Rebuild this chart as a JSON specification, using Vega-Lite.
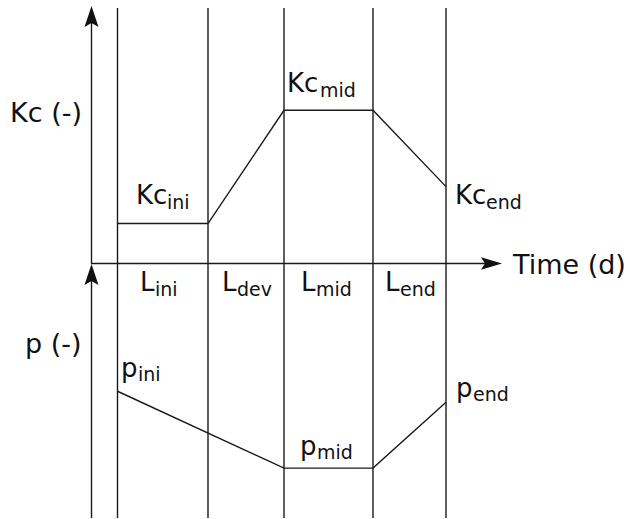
{
  "$schema": "https://vega.github.io/schema/vega-lite/v6.json",
  "width": 630,
  "height": 519,
  "padding": 0,
  "autosize": {"type": "fit", "contains": "padding"},
  "background": "white",
  "config": {"view": {"stroke": null}, "text": {"font": "DejaVu Sans", "color": "#111"}},
  "datasets": {
    "lines": [
      {"name": "stage1", "t": 117.5, "v": 8, "t2": 117.5, "v2": 519},
      {"name": "stage2", "t": 208, "v": 8, "t2": 208, "v2": 519},
      {"name": "stage3", "t": 284, "v": 8, "t2": 284, "v2": 519},
      {"name": "stage4", "t": 373, "v": 8, "t2": 373, "v2": 519},
      {"name": "stage5", "t": 446, "v": 8, "t2": 446, "v2": 519},
      {"name": "Kc", "t": 91.5, "v": 264, "t2": 91.5, "v2": 14},
      {"name": "p", "t": 91.5, "v": 519, "t2": 91.5, "v2": 272},
      {"name": "time", "t": 91, "v": 264, "t2": 494, "v2": 264}
    ],
    "arrows": [
      {"dir": "up", "t": 91.5, "v": 16.5},
      {"dir": "up", "t": 91.5, "v": 275},
      {"dir": "right", "t": 491.5, "v": 264}
    ],
    "curves": [
      {"series": "Kc", "t": 117.5, "v": 224},
      {"series": "Kc", "t": 208, "v": 224},
      {"series": "Kc", "t": 284, "v": 110.5},
      {"series": "Kc", "t": 373, "v": 110.5},
      {"series": "Kc", "t": 446, "v": 187},
      {"series": "p", "t": 117.5, "v": 392},
      {"series": "p", "t": 284, "v": 469},
      {"series": "p", "t": 373, "v": 469},
      {"series": "p", "t": 446, "v": 403}
    ],
    "axisLabels": [
      {"text": "Kc (-)", "t": 10, "v": 122},
      {"text": "p (-)", "t": 25, "v": 354},
      {"text": "Time (d)", "t": 513, "v": 275}
    ],
    "labels": [
      {"text": "Kc", "t": 136, "v": 204},
      {"text": "Kc", "t": 287, "v": 92},
      {"text": "Kc", "t": 455, "v": 204},
      {"text": "L", "t": 140, "v": 292},
      {"text": "L", "t": 222, "v": 292},
      {"text": "L", "t": 301, "v": 292},
      {"text": "L", "t": 385, "v": 292},
      {"text": "p", "t": 121, "v": 378},
      {"text": "p", "t": 300, "v": 456},
      {"text": "p", "t": 456, "v": 398}
    ],
    "subs": [
      {"text": "ini", "t": 167, "v": 209},
      {"text": "mid", "t": 320, "v": 97},
      {"text": "end", "t": 486, "v": 209},
      {"text": "ini", "t": 155, "v": 297},
      {"text": "dev", "t": 237, "v": 297},
      {"text": "mid", "t": 316, "v": 297},
      {"text": "end", "t": 400, "v": 297},
      {"text": "ini", "t": 138, "v": 382},
      {"text": "mid", "t": 317, "v": 460},
      {"text": "end", "t": 473, "v": 402}
    ]
  },
  "encoding": {
    "x": {"field": "t", "type": "quantitative", "axis": null, "scale": {"domain": [0, 630], "nice": false, "zero": false}},
    "y": {"field": "v", "type": "quantitative", "axis": null, "scale": {"domain": [0, 519], "nice": false, "zero": false, "reverse": true}}
  },
  "layer": [
    {
      "data": {"name": "lines"},
      "mark": {"type": "rule", "color": "#1a1a1a", "strokeWidth": 1.4},
      "encoding": {
        "x2": {"field": "t2"},
        "y2": {"field": "v2"}
      }
    },
    {
      "data": {"name": "arrows"},
      "mark": {"type": "point", "filled": true, "size": 441, "opacity": 1, "color": "#111", "strokeWidth": 0},
      "encoding": {
        "shape": {
          "field": "dir", "type": "nominal", "legend": null,
          "scale": {"domain": ["up", "right"], "range": ["M0,-1L0.667,1L0,0.62L-0.667,1Z", "M1,0L-1,0.6L-0.62,0L-1,-0.6Z"]}
        }
      }
    },
    {
      "data": {"name": "curves"},
      "mark": {"type": "line", "color": "#1a1a1a", "strokeWidth": 1.4, "interpolate": "linear"},
      "encoding": {
        "detail": {"field": "series", "type": "nominal"}
      }
    },
    {
      "data": {"name": "axisLabels"},
      "mark": {"type": "text", "fontSize": 27, "align": "left", "baseline": "alphabetic"},
      "encoding": {"text": {"field": "text"}}
    },
    {
      "data": {"name": "labels"},
      "mark": {"type": "text", "fontSize": 26, "align": "left", "baseline": "alphabetic"},
      "encoding": {"text": {"field": "text"}}
    },
    {
      "data": {"name": "subs"},
      "mark": {"type": "text", "fontSize": 19, "align": "left", "baseline": "alphabetic"},
      "encoding": {"text": {"field": "text"}}
    }
  ]
}
